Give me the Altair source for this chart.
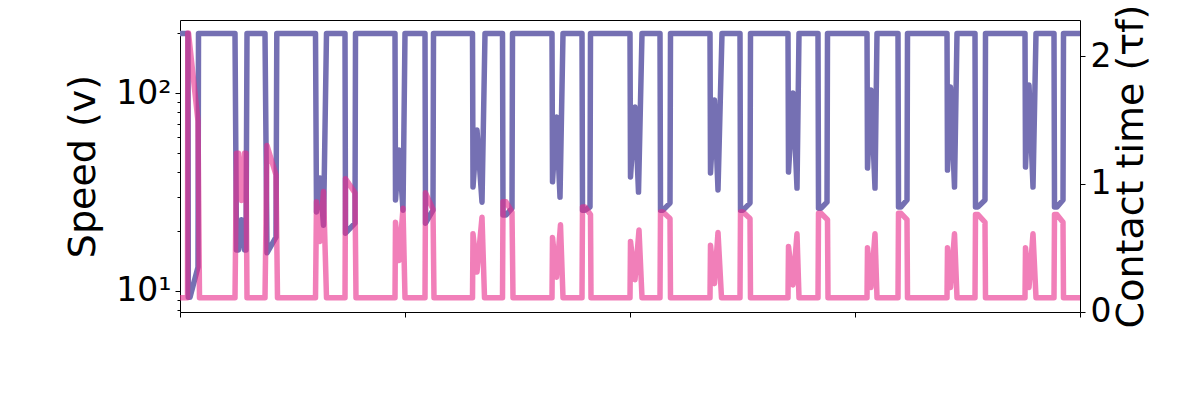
import altair as alt
import pandas as pd

# time (plot units, 0..900) and speed values of the purple series
speed_t = [0, 8, 8.3, 10, 18, 18.5,
           55, 56.5, 58.5, 61.5, 64.5, 66, 67,
           85, 87, 96, 96.8,
           135.5, 136.5, 140, 143.5, 146.5,
           165, 165.5, 175, 175.5,
           215, 215.5, 219, 223, 225,
           245, 245.5, 253, 253.5,
           292.5, 293, 297, 302, 305,
           322.5, 323, 326, 332, 332.5,
           372, 372.5, 376.5, 380, 383,
           402, 402.5, 405, 410, 410.5,
           450, 450.5, 455, 458.5, 462,
           480, 480.5, 483, 490, 490.5,
           530, 530.5, 534.5, 538, 542,
           560, 560.5, 563, 570, 570.5,
           608, 608.5, 613, 617, 619,
           638, 638.5, 641, 647, 647.5,
           687, 687.5, 691, 695, 697,
           718, 718.5, 721, 727, 727.5,
           767, 767.5, 770.5, 774.5, 777,
           795, 795.5, 798, 805, 805.5,
           845, 845.5, 849, 853, 856,
           874, 874.5, 877, 883, 883.5,
           900]
speed_v = [200, 200, 9.3, 9.3, 13.2, 200,
           200, 16.1, 16.1, 22.9, 16.1, 16.1, 200,
           200, 15.6, 18.7, 200,
           200, 25.1, 37.2, 21.5, 200,
           200, 19.6, 22.0, 200,
           200, 28.8, 51.5, 25.6, 200,
           200, 22.0, 25.6, 200,
           200, 33.5, 65.0, 28.1, 200,
           200, 24.2, 24.2, 26.2, 200,
           200, 35.6, 75.7, 29.8, 200,
           200, 25.6, 25.6, 26.6, 200,
           200, 37.7, 85.0, 31.6, 200,
           200, 25.6, 25.6, 27.8, 200,
           200, 39.5, 92.2, 32.4, 200,
           200, 25.6, 25.6, 27.8, 200,
           200, 39.9, 100.0, 33.1, 200,
           200, 26.2, 26.2, 28.1, 200,
           200, 41.8, 103.6, 33.1, 200,
           200, 26.6, 26.6, 28.8, 200,
           200, 40.8, 107.2, 33.5, 200,
           200, 26.6, 26.6, 28.8, 200,
           200, 42.3, 109.8, 33.5, 200,
           200, 26.6, 26.6, 28.8, 200,
           200]

# time and contact-time values of the pink series
contact_t = [0, 7.5, 7.8, 8.5, 18, 19.5,
             55, 56.5, 58.5, 61.5, 64.5, 66, 67,
             85, 87, 96, 97.5,
             135.5, 136.5, 140, 143.5, 146.5,
             165, 165.5, 175, 176,
             215, 215.5, 219, 223, 225,
             245, 245.5, 253, 254,
             292.5, 293, 297, 302, 304.5,
             322.5, 323, 326, 332, 333,
             372, 372.5, 376.5, 380.5, 383,
             402, 402.5, 405, 410.5, 411,
             450, 450.5, 455, 459, 462,
             480, 480.5, 483, 490, 490.5,
             530, 530.5, 534.5, 538, 541.5,
             560, 560.5, 563, 570, 570.5,
             608, 608.5, 613, 617, 619,
             638, 638.5, 641, 647.5, 648,
             687, 687.5, 691, 695, 697,
             718, 718.5, 721, 727, 727.5,
             767, 767.5, 770.5, 774.5, 777,
             795, 795.5, 798, 805, 805.5,
             845, 845.5, 849, 853, 856,
             874, 874.5, 877, 883, 883.5,
             900]
contact_c = [0.11, 0.11, 2.18, 2.18, 1.49, 0.11,
             0.11, 1.24, 1.24, 0.87, 1.24, 1.24, 0.11,
             0.11, 1.30, 1.07, 0.11,
             0.11, 0.86, 0.55, 0.94, 0.11,
             0.11, 1.04, 0.93, 0.11,
             0.11, 0.70, 0.40, 0.81, 0.11,
             0.11, 0.93, 0.80, 0.11,
             0.11, 0.61, 0.31, 0.74, 0.11,
             0.11, 0.86, 0.86, 0.78, 0.11,
             0.11, 0.58, 0.27, 0.68, 0.11,
             0.11, 0.82, 0.82, 0.76, 0.11,
             0.11, 0.55, 0.25, 0.64, 0.11,
             0.11, 0.78, 0.78, 0.73, 0.11,
             0.11, 0.52, 0.22, 0.62, 0.11,
             0.11, 0.78, 0.78, 0.73, 0.11,
             0.11, 0.51, 0.21, 0.61, 0.11,
             0.11, 0.77, 0.77, 0.72, 0.11,
             0.11, 0.50, 0.19, 0.61, 0.11,
             0.11, 0.77, 0.77, 0.72, 0.11,
             0.11, 0.50, 0.19, 0.61, 0.11,
             0.11, 0.76, 0.76, 0.70, 0.11,
             0.11, 0.50, 0.19, 0.61, 0.11,
             0.11, 0.76, 0.76, 0.70, 0.11,
             0.11]

x_ticks = [0, 225, 450, 675, 900]
speed_ticks = [10, 100, 8, 9, 20, 30, 40, 50, 60, 70, 80, 90, 200]
contact_ticks = [0, 1, 2]

sp = pd.DataFrame({"t": speed_t, "v": speed_v, "i": list(range(len(speed_t)))})
ct = pd.DataFrame({"t": contact_t, "c": contact_c, "i": list(range(len(contact_t)))})

FONT = "DejaVu Sans"

x_enc = alt.X(
    "t:Q",
    scale=alt.Scale(domain=[0, 900], nice=False, zero=False),
    axis=alt.Axis(values=x_ticks, labels=False, title=None, tickSize=5,
                  tickColor="black", tickWidth=1, grid=False, domain=False),
)

speed = alt.Chart(sp).mark_line(
    color="#7570b3", strokeWidth=5.5, strokeJoin="round", clip=True
).encode(
    x=x_enc,
    y=alt.Y(
        "v:Q",
        scale=alt.Scale(type="log", domain=[7.83, 234], nice=False),
        axis=alt.Axis(
            values=speed_ticks,
            labelExpr="datum.value == 10 ? '10¹' : (datum.value == 100 ? '10²' : '')",
            labelOverlap=False,
            tickSize={"condition": {"test": "datum.value == 10 || datum.value == 100", "value": 5}, "value": 3},
            tickColor="black", tickWidth=1, grid=False, domain=False,
            labelFont=FONT, labelFontSize=33, labelColor="black", labelPadding=4,
            title="Speed (v)", titleFont=FONT, titleFontSize=38,
            titleFontWeight="normal", titleColor="black",
            titleAngle=270, titleX=-86, titleY=146, titleAlign="center",
            titleBaseline="alphabetic",
        ),
    ),
    order="i:Q",
)

contact = alt.Chart(ct).mark_line(
    color="#e7298a", opacity=0.6, strokeWidth=5.5, strokeJoin="round", clip=True
).encode(
    x=x_enc,
    y=alt.Y(
        "c:Q",
        scale=alt.Scale(domain=[-0.002, 2.282], nice=False, zero=False),
        axis=alt.Axis(
            orient="right", values=contact_ticks, format="d",
            tickSize=5, tickColor="black", tickWidth=1, grid=False, domain=False,
            labelFont=FONT, labelFontSize=33, labelColor="black", labelPadding=5,
            title="Contact time (τf)", titleFont=FONT, titleFontSize=38,
            titleFontWeight="normal", titleColor="black",
            titleAngle=270, titleX=62, titleY=146, titleAlign="center",
            titleBaseline="alphabetic",
        ),
    ),
    order="i:Q",
)

chart = alt.layer(speed, contact).resolve_scale(y="independent").properties(
    width=900, height=292,
    padding={"left": 180, "top": 20, "right": 120, "bottom": 88},
    autosize=alt.AutoSizeParams(type="none"),
    background="white",
).configure_view(stroke="black", strokeWidth=1)

chart.save("out.html", embed_options={"renderer": "svg", "actions": False})
